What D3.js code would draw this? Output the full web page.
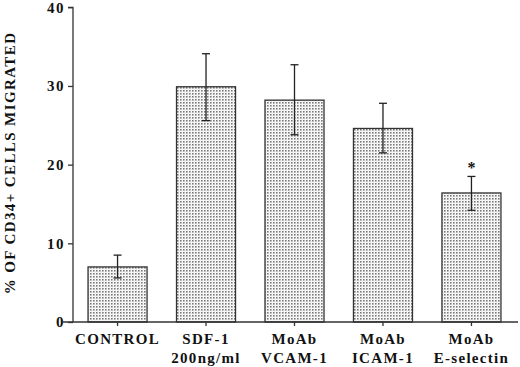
<!DOCTYPE html>
<html><head><meta charset="utf-8">
<script src="https://cdn.jsdelivr.net/npm/d3@7"></script>
<style>body{margin:0;background:#fff}svg{display:block}text{font-family:"Liberation Serif","Times New Roman",serif;font-weight:bold;fill:#111}</style>
</head><body>
<script>
const categories = [["CONTROL"],["SDF-1","200ng/ml"],["MoAb","VCAM-1"],["MoAb","ICAM-1"],["MoAb","E-selectin"]];
const means = [7.0, 29.9, 28.2, 24.6, 16.4];
const errUpper = [8.5, 34.1, 32.7, 27.8, 18.5];
const errLower = [5.6, 25.6, 23.8, 21.5, 14.2];
const significant = [false, false, false, false, true];
const yTicks = [0, 10, 20, 30, 40];

const W = 520, H = 367;
const svg = d3.select("body").append("svg").attr("width", W).attr("height", H);
const defs = svg.append("defs");
const pat = defs.append("pattern").attr("id","dots").attr("patternUnits","userSpaceOnUse").attr("width",3).attr("height",3);
pat.append("rect").attr("width",3).attr("height",3).attr("fill","#fff");
pat.append("rect").attr("x",0).attr("y",0).attr("width",1.6).attr("height",1.6).attr("fill","#777");
pat.append("rect").attr("x",1.5).attr("y",1.5).attr("width",1).attr("height",1).attr("fill","#ccc");

const x0 = 73, y0 = 322;
const y = d3.scaleLinear().domain([0,40]).range([y0, 7.3]);
const x = d3.scaleBand().domain(d3.range(categories.length)).range([x0, 516]).paddingInner(0.333).paddingOuter(0.17);

// bars
svg.selectAll("rect.bar").data(means).join("rect").attr("class","bar")
  .attr("x",(d,i)=>x(i)).attr("y",d=>y(d)).attr("width",x.bandwidth()).attr("height",d=>y0-y(d))
  .attr("fill","url(#dots)").attr("stroke","#333").attr("stroke-width",1.3);

// error bars
const eb = svg.append("g").attr("stroke","#222").attr("stroke-width",1.3);
means.forEach((m,i)=>{
  const cx = x(i)+x.bandwidth()/2;
  eb.append("line").attr("x1",cx).attr("x2",cx).attr("y1",y(errLower[i])).attr("y2",y(errUpper[i]));
  [errLower[i], errUpper[i]].forEach(v=>{
    eb.append("line").attr("x1",cx-4).attr("x2",cx+4).attr("y1",y(v)).attr("y2",y(v));
  });
  if(significant[i]) svg.append("text").attr("x",cx).attr("y",y(errUpper[i])-3).attr("text-anchor","middle").attr("font-size",16).text("*");
});

// y axis
const ya = svg.append("g").attr("transform",`translate(${x0},0)`)
  .call(d3.axisLeft(y).tickValues(yTicks).tickSize(5).tickPadding(3));
ya.select(".domain").attr("stroke","#333").attr("stroke-width",1.3).attr("d",`M-5,${y(40)}H0V${y0}`);
ya.selectAll(".tick line").attr("stroke","#333").attr("stroke-width",1.3);
ya.selectAll(".tick text").attr("font-size",15).attr("letter-spacing",1.5).attr("font-family","Liberation Serif").attr("font-weight","bold").attr("fill","#111");

// x axis
const xa = svg.append("g").attr("transform",`translate(0,${y0})`)
  .call(d3.axisBottom(x).tickSize(4).tickFormat(""));
xa.select(".domain").attr("stroke","#333").attr("stroke-width",1.3).attr("d",`M${x0-10},0H518`);
xa.selectAll(".tick line").attr("stroke","#333").attr("stroke-width",1.3);

// category labels
categories.forEach((lines,i)=>{
  const cx = x(i)+x.bandwidth()/2;
  lines.forEach((t,j)=>{
    svg.append("text").attr("x",cx).attr("y",344+j*19).attr("text-anchor","middle")
      .attr("font-size",15).attr("letter-spacing",1.3).text(t);
  });
});

// y title
svg.append("text").attr("transform",`translate(15,${163}) rotate(-90)`).attr("text-anchor","middle")
  .attr("font-size",15).attr("letter-spacing",1.4).text("% OF CD34+ CELLS MIGRATED");
</script>
</body></html>
